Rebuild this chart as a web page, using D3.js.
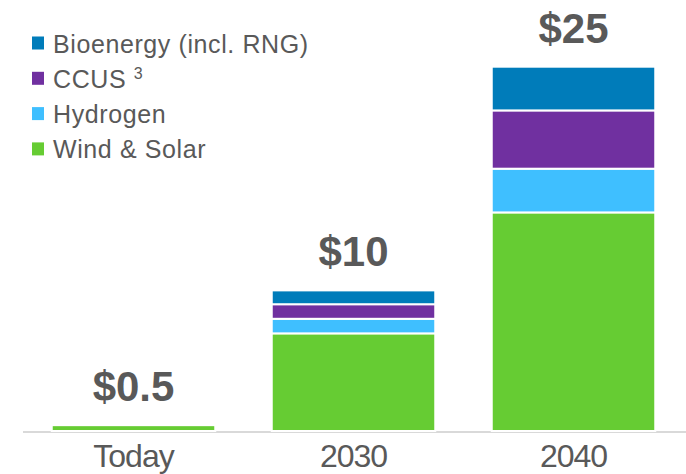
<!DOCTYPE html>
<html>
<head>
<meta charset="utf-8">
<script src="https://cdn.jsdelivr.net/npm/d3@7"></script>
<style>
  html, body { margin: 0; padding: 0; background: #fff; }
  svg { display: block; }
  text { font-family: "Liberation Sans", Arial, sans-serif; fill: #595959; }
</style>
</head>
<body>
<svg id="chart" width="686" height="474"></svg>
<script>
const categories = ["Today", "2030", "2040"];
const seriesNames = ["Wind & Solar", "Hydrogen", "CCUS", "Bioenergy (incl. RNG)"];
const windSolar = [0.4, 6.7, 15.0];
const hydrogen  = [0, 1.0, 3.0];
const ccus      = [0, 1.0, 4.0];
const bioenergy = [0, 0.95, 3.0];
const totalLabels = ["$0.5", "$10", "$25"];
const colors = ["#66CC33", "#3FBFFF", "#7030A0", "#007CBA"];
const legendOrder = [3, 2, 1, 0];

const rows = categories.map((c, i) => ({
  cat: c,
  "Wind & Solar": windSolar[i],
  "Hydrogen": hydrogen[i],
  "CCUS": ccus[i],
  "Bioenergy (incl. RNG)": bioenergy[i]
}));

const svg = d3.select("#chart");
const x = d3.scaleBand().domain(categories).range([23.5, 683.5])
  .paddingInner(0.2568).paddingOuter(0.1284);
const y = d3.scaleLinear().domain([0, 25]).range([431, 66.7]);
const color = d3.scaleOrdinal().domain(seriesNames).range(colors);

const stacked = d3.stack().keys(seriesNames)(rows);

// axis baseline
svg.append("line")
  .attr("x1", 23).attr("x2", 686)
  .attr("y1", 432).attr("y2", 432)
  .attr("stroke", "#d9d9d9").attr("stroke-width", 2);

svg.append("g").selectAll("g")
  .data(stacked).join("g")
  .attr("fill", d => color(d.key))
  .selectAll("rect")
  .data(d => d.filter(p => p[1] - p[0] > 0))
  .join("rect")
  .attr("x", d => x(d.data.cat))
  .attr("width", x.bandwidth())
  .attr("y", d => y(d[1]))
  .attr("height", d => y(d[0]) - y(d[1]))
  .attr("stroke", "#fff")
  .attr("stroke-width", 2);

// totals
const totals = rows.map((r, i) => windSolar[i] + hydrogen[i] + ccus[i] + bioenergy[i]);
svg.append("g").selectAll("text")
  .data(categories).join("text")
  .attr("x", d => x(d) + x.bandwidth() / 2)
  .attr("y", (d, i) => y(totals[i]) - 24)
  .attr("text-anchor", "middle")
  .style("font-size", "42px")
  .style("font-weight", "bold")
  .text((d, i) => totalLabels[i]);

// x axis labels
const xAxis = d3.axisBottom(x).tickSize(0).tickPadding(0);
const gx = svg.append("g").attr("transform", "translate(0,432)").call(xAxis);
gx.select(".domain").remove();
gx.selectAll("text")
  .attr("dy", null)
  .attr("y", 34.5)
  .style("font-size", "32px")
  .style("letter-spacing", "-1px")
  .style("font-family", "'Liberation Sans', Arial, sans-serif")
  .attr("fill", "#595959");

// legend
const legend = svg.append("g");
legendOrder.forEach((si, j) => {
  const baseY = 52.5 + j * 35.3;
  legend.append("rect")
    .attr("x", 32).attr("y", baseY - 16)
    .attr("width", 12).attr("height", 13)
    .attr("fill", colors[si]);
  const t = legend.append("text")
    .attr("x", 53).attr("y", baseY)
    .style("font-size", "25px")
    .style("letter-spacing", "0.6px");
  if (seriesNames[si] === "CCUS") {
    t.append("tspan").text("CCUS ");
    t.append("tspan").attr("dy", -9).style("font-size", "16px").style("letter-spacing", "0").text("3");
  } else {
    t.text(seriesNames[si]);
  }
});
</script>
</body>
</html>
